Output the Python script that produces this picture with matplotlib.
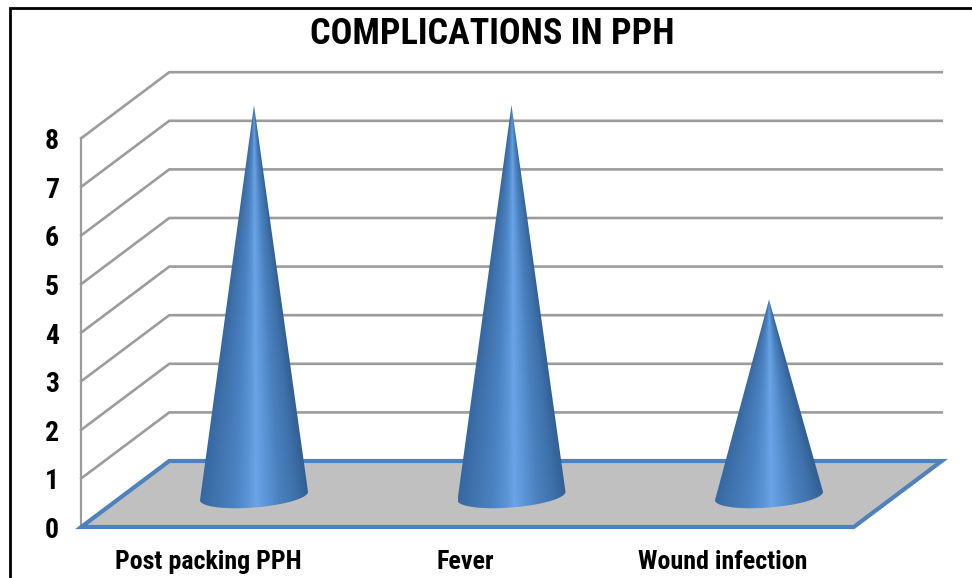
import numpy as np
import matplotlib
matplotlib.use('Agg')
import matplotlib.pyplot as plt
from matplotlib import font_manager as fm
from matplotlib.colors import LinearSegmentedColormap
from matplotlib.patches import PathPatch, Polygon
from matplotlib.path import Path

# chart values
categories = ['Post packing PPH', 'Fever', 'Wound infection']
values = [8, 8, 4]
ticks = [0, 1, 2, 3, 4, 5, 6, 7, 8]
tick_labels = ['0', '1', '2', '3', '4', '5', '6', '7', '8']
title = 'COMPLICATIONS IN PPH'

W, H = 972, 578
CAT_PX = 257.5   # pixels per category
VAL_PX = 48.6    # pixels per unit of value
X0_PX, Y0_PX = 254, 494   # where category 0 / value 0 sits, mid depth

# depth offset of the 3d box, in data units
DX = 44 / CAT_PX
DY = 33 / VAL_PX
X_LEFT, X_RIGHT = -0.5, 2.5

# narrow bold face if there is one
names = {f.name for f in fm.fontManager.ttflist}
wanted = ['Liberation Sans Narrow', 'Roboto Condensed', 'Asap Condensed', 'Liberation Sans', 'DejaVu Sans']
plt.rcParams['font.family'] = [n for n in wanted if n in names]
plt.rcParams['font.weight'] = 'bold'

fig = plt.figure(figsize=(W / 100, H / 100), dpi=100, facecolor='white')
ax = fig.add_axes([0, 0, 1, 1])
ax.set_axis_off()

px = lambda x: (x - X0_PX) / CAT_PX
py = lambda y: (Y0_PX - y) / VAL_PX

# outer frame, only top and left show
ax.plot([px(9.5), px(9.5), px(W)], [py(H), py(7.5), py(7.5)], color='black', lw=2,
        solid_joinstyle='miter', zorder=5)

# gridlines: side wall then back wall
grid_col = '#9c9c9c'
for t in ticks[1:]:
    ax.plot([X_LEFT - DX, X_LEFT + DX, X_RIGHT + DX], [t - DY, t + DY, t + DY],
            color=grid_col, lw=1.9, zorder=1, solid_joinstyle='miter')

# left vertical axis line
ax.plot([X_LEFT - DX, X_LEFT - DX], [0 - DY, ticks[-1] - DY], color=grid_col, lw=1.6, zorder=1)

# floor
floor = Polygon([(X_LEFT - DX, -DY), (X_RIGHT - DX, -DY), (X_RIGHT + DX, DY), (X_LEFT + DX, DY)],
                closed=True, facecolor='#c0c0c0', edgecolor='#4f81bd', lw=3, zorder=2,
                joinstyle='miter')
ax.add_patch(floor)

# cones: colour fans out from the apex
cone_cm = LinearSegmentedColormap.from_list('cone', [
    (0.00, '#3568a2'), (0.14, '#4173ad'), (0.32, '#4a82c2'), (0.45, '#5a95d6'),
    (0.52, '#6ca4e6'), (0.60, '#5e98da'), (0.74, '#4a80be'), (0.88, '#3f72ab'),
    (1.00, '#335f94')])
half_w = 54 / CAT_PX
a_y = 4.2 / VAL_PX     # tilt of the base ellipse
b_y = 11.5 / VAL_PX
base_y = -2 / VAL_PX

for i, (cat, val) in enumerate(zip(categories, values)):
    t = np.linspace(0, np.pi, 60)
    ex = i + half_w * np.cos(t)
    ey = base_y + a_y * np.cos(t) - b_y * np.sin(t)
    verts = [(i, val)] + list(zip(ex, ey)) + [(i, val)]
    codes = [Path.MOVETO] + [Path.LINETO] * (len(verts) - 2) + [Path.CLOSEPOLY]
    clip = PathPatch(Path(verts, codes), facecolor='none', edgecolor='none',
                     transform=ax.transData)
    ax.add_patch(clip)

    gx = np.linspace(i - half_w, i + half_w, 220)
    gy = np.linspace(base_y - b_y - 0.05, val, 500)
    xx, yy = np.meshgrid(gx, gy)
    frac = np.clip((val - yy) / (val - base_y), 1e-3, None)
    u = np.clip((xx - i) / (half_w * frac) * 0.5 + 0.5, 0, 1)
    im = ax.imshow(u, cmap=cone_cm, origin='lower', aspect='auto', interpolation='bilinear',
                   extent=[gx[0], gx[-1], gy[0], gy[-1]], zorder=3)
    im.set_clip_path(clip)
    # category labels sit on the front edge, so left of the cones
    ax.text(i - 46 / CAT_PX, py(562), cat, ha='center', va='center',
            fontsize=18.7, color='black', zorder=6)

ax.set_xlim((0 - X0_PX) / CAT_PX, (W - X0_PX) / CAT_PX)
ax.set_ylim((Y0_PX - H) / VAL_PX, Y0_PX / VAL_PX)

# value labels follow the front edge
for t, lab in zip(ticks, tick_labels):
    ax.text(px(52), t - DY - 3.5 / VAL_PX, lab, ha='center', va='center', fontsize=20,
            color='black', zorder=6)

ax.text(px(492), py(34), title, ha='center', va='center', fontsize=26, color='black', zorder=6)

plt.savefig('out.png', dpi=100)
